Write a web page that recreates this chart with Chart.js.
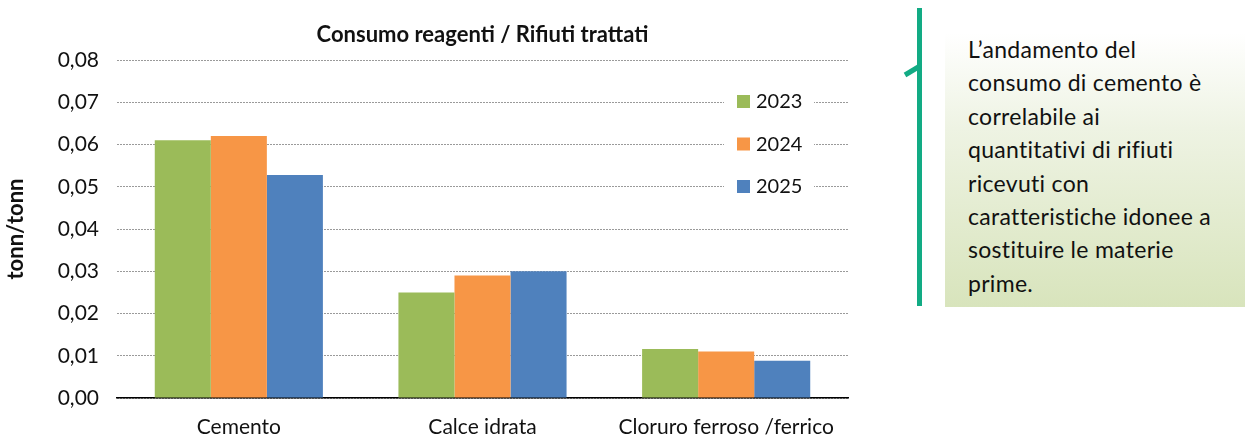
<!DOCTYPE html>
<html>
<head>
<meta charset="utf-8">
<script src="https://cdn.jsdelivr.net/npm/chart.js@4"></script>
<style>
  body { margin: 0; background: #fff; font-family: Lato, "Open Sans", sans-serif; }
  .wrap { position: relative; width: 1245px; height: 441px; }
  .chart-box { position: absolute; left: 0; top: 0; width: 860px; height: 441px; }
  .note-line { position: absolute; left: 0; top: 0; }
  .note {
    position: absolute; left: 945px; top: 33px; width: 300px; height: 274px;
    background: linear-gradient(to bottom, #ffffff 0%, #eef3e3 35%, #d8e4bc 100%);
    box-sizing: border-box; padding: 0 0 0 23px;
    font-size: 23px; line-height: 33.4px; letter-spacing: 0.3px; color: #111;
  }
</style>
</head>
<body>
<div class="wrap">
  <div class="chart-box"><canvas id="myBarChart" width="860" height="441"></canvas></div>
  <svg class="note-line" width="945" height="441">
    <line x1="919.5" y1="8" x2="919.5" y2="306" stroke="#12ab84" stroke-width="5"/>
    <line x1="905" y1="75" x2="920" y2="66" stroke="#12ab84" stroke-width="5"/>
  </svg>
  <div class="note">L’andamento del<br>consumo di cemento è<br>correlabile ai<br>quantitativi di rifiuti<br>ricevuti con<br>caratteristiche idonee a<br>sostituire le materie<br>prime.</div>
</div>
<script>
// dati
const categorie = ["Cemento", "Calce idrata", "Cloruro ferroso /ferrico"];
const anni = ["2023", "2024", "2025"];
const valori2023 = [0.061, 0.025, 0.0116];
const valori2024 = [0.062, 0.029, 0.011];
const valori2025 = [0.0528, 0.030, 0.0088];
const tickY = [0, 0.01, 0.02, 0.03, 0.04, 0.05, 0.06, 0.07, 0.08];
const colori = ["#9bbb59", "#f79646", "#4f81bd"];

const FONT = "Lato, 'Open Sans', sans-serif";

// legenda dentro l'area del grafico (sfondo bianco sopra la griglia)
const legendaInterna = {
  id: "legendaInterna",
  afterDraw(chart) {
    const ctx = chart.ctx;
    const a = chart.chartArea;
    const x0 = a.right - 111;
    ctx.save();
    chart.data.datasets.forEach(function (ds, i) {
      const cy = a.top + 41 + i * 42.5;
      ctx.fillStyle = "#fff";
      ctx.fillRect(x0 - 13, cy - 12, 90, 24);
      ctx.fillStyle = ds.backgroundColor;
      ctx.fillRect(x0, cy - 6, 13, 13);
      ctx.fillStyle = "#111";
      ctx.font = "20px " + FONT;
      ctx.textBaseline = "middle";
      ctx.fillText(ds.label, x0 + 19, cy + 1);
    });
    ctx.restore();
  },
};

const ctxBar = document.getElementById("myBarChart").getContext("2d");
const myBarChart = new Chart(ctxBar, {
  type: "bar",
  data: {
    labels: categorie,
    datasets: [
      { label: anni[0], data: valori2023, backgroundColor: colori[0] },
      { label: anni[1], data: valori2024, backgroundColor: colori[1] },
      { label: anni[2], data: valori2025, backgroundColor: colori[2] },
    ],
  },
  options: {
    responsive: false,
    animation: false,
    layout: { padding: { left: 0, right: 12, top: 0, bottom: 0 } },
    datasets: { bar: { categoryPercentage: 0.69, barPercentage: 1.0 } },
    plugins: {
      legend: { display: false },
      tooltip: { enabled: false },
      title: {
        display: true,
        fullSize: false,
        text: "Consumo reagenti / Rifiuti trattati",
        color: "#111",
        font: { family: FONT, size: 22, weight: "bold" },
        padding: { top: 22, bottom: 11.6 },
      },
    },
    scales: {
      x: {
        grid: { display: false },
        border: { display: true, color: "#000", width: 1.5 },
        ticks: { color: "#111", padding: 9, font: { family: FONT, size: 21 }, maxRotation: 0 },
        afterFit(scale) { scale.height = 43; },
      },
      y: {
        min: 0,
        max: 0.08,
        afterBuildTicks(scale) { scale.ticks = tickY.map(function (v) { return { value: v }; }); },
        ticks: {
          color: "#111",
          padding: 18,
          font: { family: FONT, size: 21 },
          callback: function (v) { return v.toFixed(2).replace(".", ","); },
        },
        grid: { color: "#9a9a9a", lineWidth: 1, drawTicks: false },
        border: { display: false, dash: [2, 1] },
        title: {
          display: true,
          text: "tonn/tonn",
          color: "#111",
          font: { family: FONT, size: 22, weight: "bold" },
          padding: { top: 3, bottom: 8 },
        },
        afterFit(scale) { scale.width = 117; },
      },
    },
  },
  plugins: [legendaInterna],
});
</script>
</body>
</html>
